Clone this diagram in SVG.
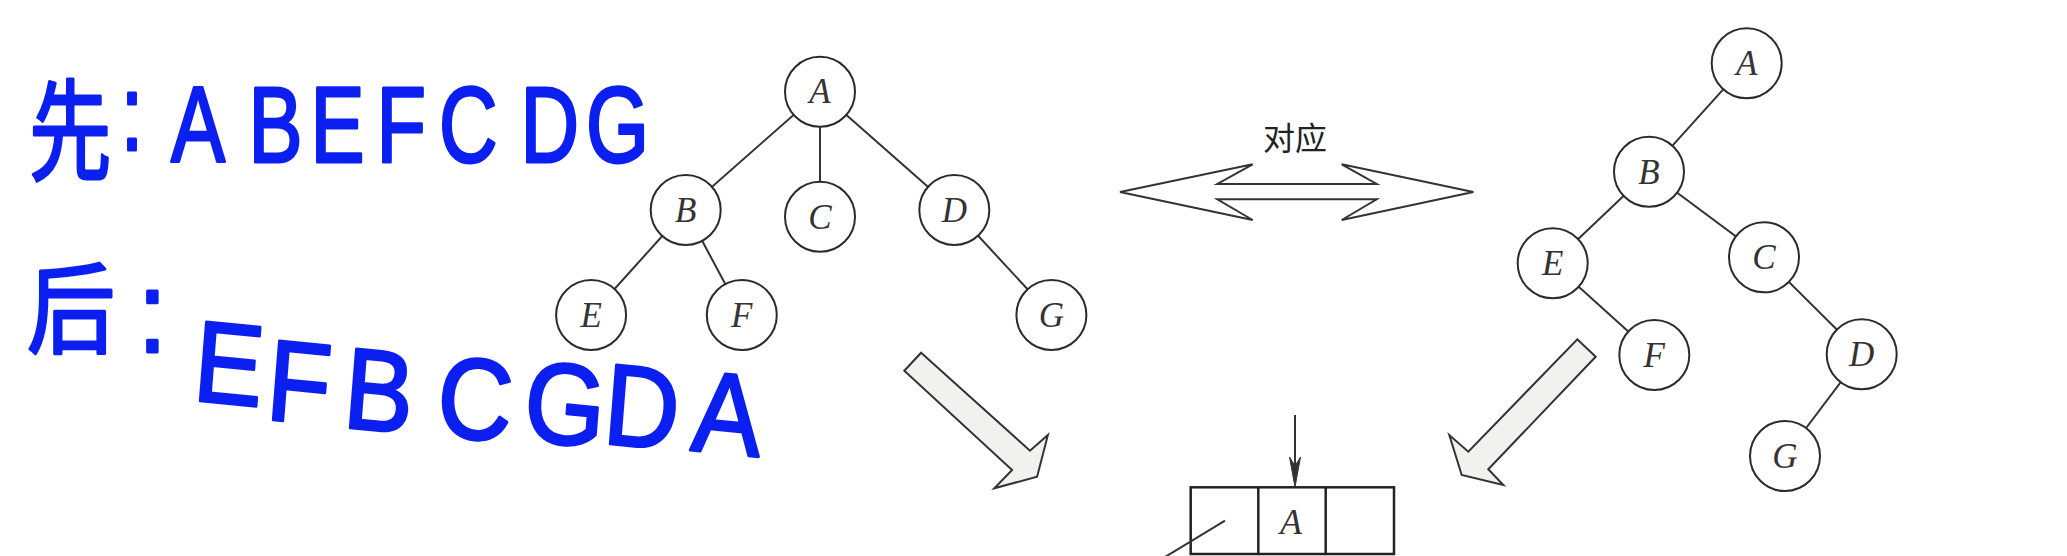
<svg xmlns="http://www.w3.org/2000/svg" width="2067" height="556" viewBox="0 0 2067 556">
<style>
.n circle{fill:#fff;stroke:#2b2b2b;stroke-width:2}
.n text{font-family:"Liberation Serif",serif;font-style:italic;font-size:35px;fill:#333;text-anchor:middle}
.e line{stroke:#333;stroke-width:2}
.hand{font-family:"Liberation Sans","Noto Sans CJK SC",sans-serif;fill:#0a1ff0;stroke:#0a1ff0;stroke-width:3;stroke-linejoin:round;stroke-linecap:round}
.big{fill:#f1f1ef;stroke:#333;stroke-width:2;stroke-linejoin:miter}
.bx{stroke:#222;stroke-width:2.5}
</style>
<rect width="2067" height="556" fill="#fff"/>

<!-- handwriting -->
<text class="hand" transform="scale(0.75 1)"><tspan x="38.7" y="172" font-size="110">先</tspan><tspan x="161" y="150" font-size="108">:</tspan><tspan x="228 331.3 414 502 585.3 694 781.3" y="162" font-size="108">ABEFCDG</tspan></text>
<text class="hand" transform="scale(0.9 1)"><tspan x="30" y="345" font-size="98">后</tspan><tspan x="153.3" y="352" font-size="115">:</tspan><tspan x="213 294.1 379.7 483.3 580 668.6 766.7" y="400 419 427 435 440 443 450" rotate="5" font-size="115">EFBCGDA</tspan></text>

<!-- connectors -->
<g id="connectors" class="e">
<line x1="820" y1="91.7" x2="685.7" y2="210"/>
<line x1="820" y1="91.7" x2="820" y2="216.7"/>
<line x1="820" y1="91.7" x2="954.3" y2="210"/>
<line x1="685.7" y1="210" x2="591.1" y2="315"/>
<line x1="685.7" y1="210" x2="741.8" y2="315"/>
<line x1="954.3" y1="210" x2="1051.4" y2="315"/>
<line x1="1746.7" y1="63.3" x2="1649" y2="171.7"/>
<line x1="1649" y1="171.7" x2="1552.7" y2="263.3"/>
<line x1="1649" y1="171.7" x2="1764" y2="257.3"/>
<line x1="1552.7" y1="263.3" x2="1654.3" y2="355"/>
<line x1="1764" y1="257.3" x2="1861.7" y2="354.3"/>
<line x1="1861.7" y1="354.3" x2="1785" y2="456"/>
</g>

<!-- left tree -->
<g id="L_A" class="n"><circle cx="820" cy="91.7" r="35"/><text x="820" y="103">A</text></g>
<g id="L_B" class="n"><circle cx="685.7" cy="210" r="35"/><text x="685.7" y="222">B</text></g>
<g id="L_C" class="n"><circle cx="820" cy="216.7" r="35"/><text x="820" y="229">C</text></g>
<g id="L_D" class="n"><circle cx="954.3" cy="210" r="35"/><text x="954.3" y="222">D</text></g>
<g id="L_E" class="n"><circle cx="591.1" cy="315" r="35"/><text x="591.1" y="327">E</text></g>
<g id="L_F" class="n"><circle cx="741.8" cy="315" r="35"/><text x="741.8" y="327">F</text></g>
<g id="L_G" class="n"><circle cx="1051.4" cy="315" r="35"/><text x="1051.4" y="327">G</text></g>

<!-- right tree -->
<g id="R_A" class="n"><circle cx="1746.7" cy="63.3" r="35"/><text x="1746.7" y="75">A</text></g>
<g id="R_B" class="n"><circle cx="1649" cy="171.7" r="35"/><text x="1649" y="183.5">B</text></g>
<g id="R_E" class="n"><circle cx="1552.7" cy="263.3" r="35"/><text x="1552.7" y="275">E</text></g>
<g id="R_C" class="n"><circle cx="1764" cy="257.3" r="35"/><text x="1764" y="269">C</text></g>
<g id="R_F" class="n"><circle cx="1654.3" cy="355" r="35"/><text x="1654.3" y="367">F</text></g>
<g id="R_D" class="n"><circle cx="1861.7" cy="354.3" r="35"/><text x="1861.7" y="366">D</text></g>
<g id="R_G" class="n"><circle cx="1785" cy="456" r="35"/><text x="1785" y="468">G</text></g>

<!-- double arrow -->
<polygon points="1120,192 1252.7,164.3 1217.3,184 1376.7,184 1341.7,164.3 1473.3,192 1341.7,220 1376.7,199.3 1217.3,199.3 1252.7,220" fill="#fff" stroke="#333" stroke-width="2"/>
<text x="1295" y="150" font-family="'Noto Sans CJK SC',sans-serif" font-size="32" fill="#222" text-anchor="middle">对应</text>

<!-- hollow arrows -->
<polygon class="big" points="921.1,352.7 1030,450.7 1047.9,435 1037.1,476.7 994.3,488.3 1012.1,470 904.3,370.7"/>
<polygon class="big" points="1577.3,339.3 1595.7,356.7 1488.3,469.3 1503.3,485 1461.7,475 1449.3,435 1468.3,451.7"/>

<!-- node box -->
<g id="box">
<rect x="1190.7" y="487.3" width="203.3" height="66.7" fill="#fff" class="bx"/>
<line x1="1258.3" y1="487.3" x2="1258.3" y2="554" class="bx"/>
<line x1="1325.7" y1="487.3" x2="1325.7" y2="554" class="bx"/>
<text x="1291" y="534" font-family="'Liberation Serif',serif" font-style="italic" font-size="36" fill="#333" text-anchor="middle">A</text>
<line x1="1295" y1="415" x2="1295" y2="470" stroke="#333" stroke-width="2"/>
<path d="M1295,487 L1289.5,457 L1295,466 L1300.5,457 Z" fill="#333" stroke="#333" stroke-width="1"/>
<line x1="1225" y1="520.7" x2="1143.6" y2="570" stroke="#333" stroke-width="2"/>
</g>
</svg>
